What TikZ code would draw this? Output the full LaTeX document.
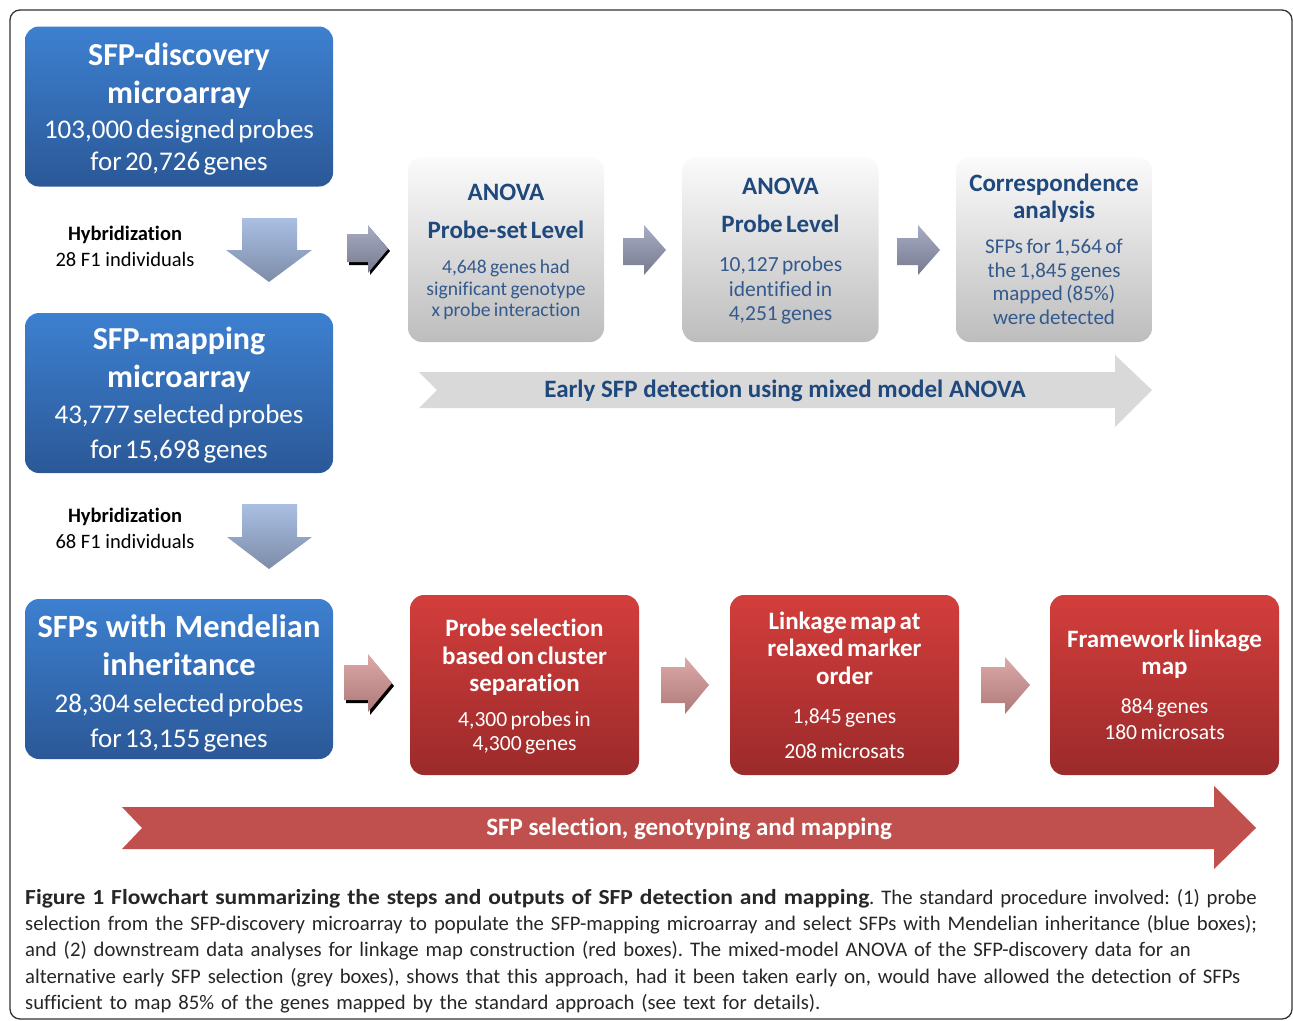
\documentclass[tikz,border=0pt]{standalone}
\usepackage{fontspec}
\setmainfont{Carlito}[Ligatures=NoCommon]
\newfontfamily\capboldfont{Carlito}[Ligatures=NoCommon, UprightFont=*-Bold, FakeStretch=1.095]
\usetikzlibrary{positioning,calc}

\definecolor{bluetop}{HTML}{3D80D0}
\definecolor{bluebot}{HTML}{2B5897}
\definecolor{redtop}{HTML}{D33E3C}
\definecolor{redbot}{HTML}{9B2A2A}
\definecolor{greytop}{HTML}{FBFBFB}
\definecolor{greybot}{HTML}{BDBDBD}
\definecolor{navyhead}{HTML}{1F487C}
\definecolor{navybody}{HTML}{34598C}
\definecolor{bandgrey}{HTML}{D9D9D9}
\definecolor{bandred}{HTML}{C0504D}
\definecolor{downtop}{HTML}{AABFE3}
\definecolor{downbot}{HTML}{7D8CA8}
\definecolor{steptop}{HTML}{A8ACC4}
\definecolor{stepbot}{HTML}{767A8E}
\definecolor{pinktop}{HTML}{DEA9A8}
\definecolor{pinkbot}{HTML}{AC7979}

\tikzset{
  bluebox/.style={rounded corners=14pt, top color=bluetop, bottom color=bluebot,
    minimum width=308pt, minimum height=160pt, inner sep=0pt},
  greybox/.style={rounded corners=14pt, top color=greytop, bottom color=greybot,
    minimum width=196pt, minimum height=185pt, inner sep=0pt},
  redbox/.style={rounded corners=14pt, top color=redtop, bottom color=redbot,
    minimum width=229pt, minimum height=180pt, inner sep=0pt},
  boxtext/.style={text width=#1, align=center, inner sep=0pt},
  hybrid/.style={align=center, font=\fontsize{20.5}{26}\selectfont},
  downarrow/.style={top color=downtop, bottom color=downbot},
  steparrow/.style={top color=steptop, bottom color=stepbot},
  pinkarrow/.style={top color=pinktop, bottom color=pinkbot},
  bandlabel/.style={font=\fontsize{25}{29}\selectfont\bfseries},
}

\begin{document}
\begin{tikzpicture}[x=1pt, y=-1pt]
    \useasboundingbox (0,0) rectangle (1293,1020);

    % Frame
    \draw[black!80, line width=1.3pt, rounded corners=10pt] (10,10) rectangle (1292,1019);

    % Blue boxes
    \node[bluebox] (discovery) at (179,106.5) {};
    \node[boxtext=306pt, text=white] (discoverytext) at ($(discovery)+(0,3)$) {%
      {\fontsize{32}{38}\selectfont\bfseries SFP-discovery\\microarray\par}\vspace{3pt}%
      {\fontsize{27}{32}\selectfont 103,000 designed\ probes\\for 20,726 genes\par}};
    \node[bluebox] (mapping) at (179,393) {};
    \node[boxtext=306pt, text=white] (mappingtext) at ($(mapping)+(0,2.5)$) {%
      {\fontsize{32}{38}\selectfont\bfseries SFP-mapping\\microarray\par}\vspace{1pt}%
      {\fontsize{27}{35}\selectfont 43,777 selected\ probes\\for 15,698 genes\par}};
    \node[bluebox] (mendel) at (179,679) {};
    \node[boxtext=306pt, text=white] (mendeltext) at ($(mendel)+(0,4)$) {%
      {\fontsize{32.5}{38}\selectfont\bfseries\spaceskip=0.25em SFPs with Mendelian\\inheritance\par}\vspace{2pt}%
      {\fontsize{27}{35}\selectfont 28,304 selected\ probes\\for 13,155 genes\par}};

    % Hybridization steps
    \node[hybrid] (hyb1) at (125,246) {\textbf{Hybridization}\\28 F1 individuals};
    \node[hybrid] (hyb2) at (125,528.5) {\textbf{Hybridization}\\68 F1 individuals};
    \shade[downarrow] (242,218) -- (297,218) -- (297,250) -- (312,250) -- (269,282) -- (226,250) -- (242,250) -- cycle;
    \shade[downarrow] (242,504) -- (297,504) -- (297,537) -- (312,537) -- (269,569) -- (227,537) -- (242,537) -- cycle;

    % Grey boxes (early detection)
    \node[greybox] (probeset) at (506,249.5) {};
    \node[boxtext=194pt, text=navyhead] (probesettext) at ($(probeset)+(0,2.5)$) {%
      {\fontsize{25}{38}\selectfont\bfseries ANOVA\\Probe-set Level\par}\vspace{13.5pt}%
      {\fontsize{19.6}{21.5}\selectfont\color{navybody}4,648 genes had\\significant genotype\\x probe interaction\par}};
    \node[greybox] (probelevel) at (780.5,249.5) {};
    \node[boxtext=194pt, text=navyhead] (probeleveltext) at ($(probelevel)+(0,2)$) {%
      {\fontsize{25}{38}\selectfont\bfseries ANOVA\\Probe Level\par}\vspace{14.5pt}%
      {\fontsize{21.5}{24.5}\selectfont\color{navybody}10,127 probes\\identified in\\4,251 genes\par}};
    \node[greybox] (corresp) at (1054,249.5) {};
    \node[boxtext=194pt, text=navyhead] (corresptext) at (corresp) {%
      {\fontsize{25}{27}\selectfont\bfseries Correspondence\\analysis\par}\vspace{11pt}%
      {\fontsize{21}{23.7}\selectfont\color{navybody}SFPs for 1,564 of\\the 1,845 genes\\mapped (85\%)\\were detected\par}};

    % Grey step arrows
    \fill[black] (349,237) -- (370,237) -- (370,228) -- (390,251) -- (370,275) -- (370,265) -- (349,265) -- cycle;
    \shade[steparrow] (347,234) -- (368,234) -- (368,225) -- (388,249) -- (368,273) -- (368,262) -- (347,262) -- cycle;
    \shade[steparrow] (623,238) -- (644,238) -- (644,225) -- (666,250) -- (644,275) -- (644,265) -- (623,265) -- cycle;
    \shade[steparrow] (897,238) -- (918,238) -- (918,225) -- (940,250) -- (918,275) -- (918,265) -- (897,265) -- cycle;

    % Early detection band
    \fill[bandgrey] (419,372) -- (1115,372) -- (1115,355) -- (1152,390) -- (1115,427) -- (1115,408) -- (419,408) -- (437,390) -- cycle;
    \node[bandlabel, text=navyhead] (earlylabel) at (785,391) {Early SFP detection using mixed model ANOVA};

    % Red boxes (mapping)
    \node[redbox] (cluster) at (524.5,685) {};
    \node[boxtext=227pt, text=white] (clustertext) at ($(cluster)+(0,2)$) {%
      {\fontsize{25}{27.5}\selectfont\bfseries Probe selection\\based on cluster\\separation\par}\vspace{11pt}%
      {\fontsize{21.6}{24}\selectfont 4,300 probes in\\4,300 genes\par}};
    \node[redbox] (relaxed) at (844.5,685) {};
    \node[boxtext=227pt, text=white] (relaxedtext) at (relaxed) {%
      {\fontsize{25}{27.5}\selectfont\bfseries Linkage map at\\relaxed marker\\order\par}\vspace{4pt}%
      {\fontsize{21.6}{35}\selectfont 1,845 genes\\208 microsats\par}};
    \node[redbox] (framework) at (1164.5,685) {};
    \node[boxtext=227pt, text=white] (frameworktext) at (framework) {%
      {\fontsize{25}{27}\selectfont\bfseries Framework linkage\\map\par}\vspace{13pt}%
      {\fontsize{21.6}{26}\selectfont 884 genes\\180 microsats\par}};

    % Pink step arrows
    \fill[black] (346,668) -- (370,668) -- (370,657) -- (394,686) -- (370,715) -- (370,703) -- (346,703) -- cycle;
    \shade[pinkarrow] (344,665) -- (368,665) -- (368,654) -- (392,683) -- (368,712) -- (368,700) -- (344,700) -- cycle;
    \shade[pinkarrow] (661,667) -- (685,667) -- (685,657) -- (709,685) -- (685,714) -- (685,703) -- (661,703) -- cycle;
    \shade[pinkarrow] (981,667) -- (1005,667) -- (1005,657) -- (1030,685) -- (1005,714) -- (1005,703) -- (981,703) -- cycle;

    % Mapping band
    \fill[bandred] (122,807) -- (1214,807) -- (1214,786) -- (1256,828) -- (1214,869) -- (1214,849) -- (122,849) -- (142,828) -- cycle;
    \node[bandlabel, text=white] (maplabel) at (689,829) {SFP selection, genotyping and mapping};

    % Caption
    \node[anchor=north west, text width=1265pt, align=left, inner sep=0pt, text=black!85,
      font=\fontsize{20.7}{26.3}\selectfont\frenchspacing] (caption) at (25,889) {%
      \makebox[1253pt][s]{{\capboldfont\fontsize{21.5}{26.3}\selectfont Figure 1 Flowchart summarizing the steps and outputs of SFP detection and mapping}. The standard procedure involved: (1) probe}\\
      selection from the SFP-discovery microarray to populate the SFP-mapping microarray and select SFPs with Mendelian inheritance (blue boxes);\\
      and (2) downstream data analyses for linkage map construction (red boxes). The mixed-model ANOVA of the SFP-discovery data for an\\
      alternative early SFP selection (grey boxes), shows that this approach, had it been taken early on, would have allowed the detection of SFPs\\
      sufficient to map 85\% of the genes mapped by the standard approach (see text for details).};
\end{tikzpicture}
\end{document}
